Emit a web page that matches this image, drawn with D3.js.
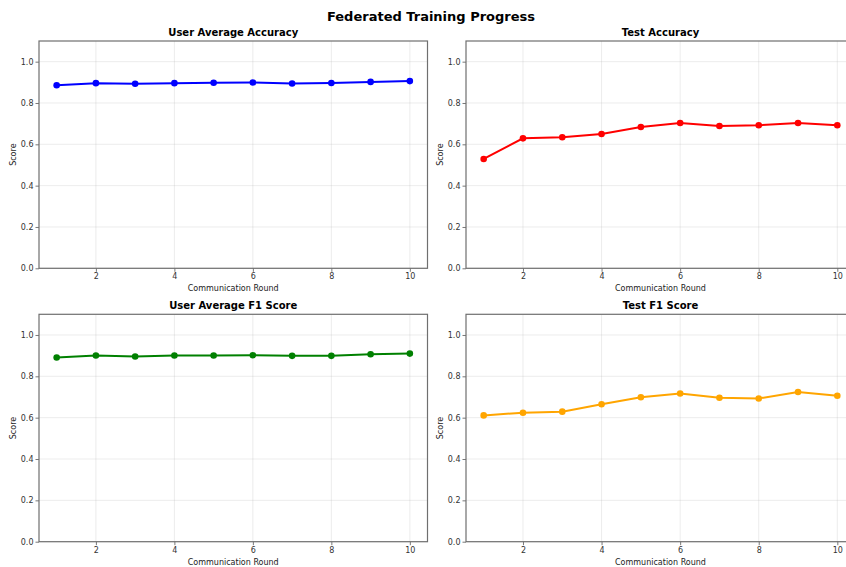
<!DOCTYPE html>
<html>
<head>
<meta charset="utf-8">
<script src="https://cdn.jsdelivr.net/npm/d3@7"></script>
<style>
  body { margin: 0; background: #fff; }
  svg { display: block; font-family: "DejaVu Sans", sans-serif; }
</style>
</head>
<body>
<div id="vis"></div>
<script>
// Frame
const FRAME_WIDTH = 846;
const FRAME_HEIGHT = 567;

// Data
const ROUNDS = [1, 2, 3, 4, 5, 6, 7, 8, 9, 10];
const USER_ACC = [0.886, 0.896, 0.893, 0.896, 0.898, 0.899, 0.894, 0.897, 0.902, 0.906];
const TEST_ACC = [0.529, 0.629, 0.634, 0.650, 0.684, 0.703, 0.689, 0.692, 0.703, 0.692];
const USER_F1 = [0.891, 0.901, 0.896, 0.901, 0.901, 0.902, 0.899, 0.899, 0.907, 0.910];
const TEST_F1 = [0.611, 0.624, 0.629, 0.665, 0.699, 0.717, 0.696, 0.693, 0.724, 0.706];
const TITLES = ["User Average Accuracy", "Test Accuracy", "User Average F1 Score", "Test F1 Score"];
const COLORS = ["#0000ff", "#ff0000", "#008000", "#ffa500"];
const X_TICKS = [2, 4, 6, 8, 10];
const Y_TICKS = [0, 0.2, 0.4, 0.6, 0.8, 1.0];

// Panel boxes (pixels)
const PANELS = [
  {left: 39, right: 427.5, top: 41, bottom: 268.3},
  {left: 466, right: 855, top: 41, bottom: 268.3},
  {left: 39, right: 427.5, top: 314.3, bottom: 541.7},
  {left: 466, right: 855, top: 314.3, bottom: 541.7}
];
const SERIES = [USER_ACC, TEST_ACC, USER_F1, TEST_F1];

const FRAME = d3.select("#vis")
  .append("svg")
    .attr("width", FRAME_WIDTH)
    .attr("height", FRAME_HEIGHT);

// Suptitle
FRAME.append("text")
  .attr("x", 431)
  .attr("y", 21)
  .attr("text-anchor", "middle")
  .attr("font-size", "13px")
  .attr("font-weight", "bold")
  .attr("fill", "#000")
  .text("Federated Training Progress");

PANELS.forEach((p, i) => {
  const W = p.right - p.left;
  const H = p.bottom - p.top;

  const X_SCALE = d3.scaleLinear().domain([0.55, 10.45]).range([0, W]);
  const Y_SCALE = d3.scaleLinear().domain([0, 1.1]).range([H, 0]);

  const g = FRAME.append("g")
    .attr("transform", "translate(" + p.left + "," + p.top + ")");

  // grid
  g.selectAll(".vgrid").data(X_TICKS).enter().append("line")
    .attr("x1", d => X_SCALE(d)).attr("x2", d => X_SCALE(d))
    .attr("y1", 0).attr("y2", H)
    .attr("stroke", "#b0b0b0").attr("stroke-opacity", 0.3).attr("stroke-width", 0.8);
  g.selectAll(".hgrid").data(Y_TICKS).enter().append("line")
    .attr("y1", d => Y_SCALE(d)).attr("y2", d => Y_SCALE(d))
    .attr("x1", 0).attr("x2", W)
    .attr("stroke", "#b0b0b0").attr("stroke-opacity", 0.3).attr("stroke-width", 0.8);

  // axes
  const xAxis = g.append("g")
    .attr("transform", "translate(0," + H + ")")
    .call(d3.axisBottom(X_SCALE).tickValues(X_TICKS).tickSize(3.5).tickPadding(2).tickFormat(d3.format("d")));
  const yAxis = g.append("g")
    .call(d3.axisLeft(Y_SCALE).tickValues(Y_TICKS).tickSize(3.5).tickPadding(2).tickFormat(d3.format(".1f")));
  [xAxis, yAxis].forEach(a => {
    a.select(".domain").remove();
    a.selectAll("line").attr("stroke", "#555").attr("stroke-width", 0.8);
    a.selectAll("text").attr("font-size", "8px").attr("fill", "#333")
      .attr("font-family", "DejaVu Sans, sans-serif");
  });

  // frame box
  g.append("rect")
    .attr("x", 0).attr("y", 0).attr("width", W).attr("height", H)
    .attr("fill", "none").attr("stroke", "#6f6f6f").attr("stroke-width", 1.2);

  // line + markers
  const data = ROUNDS.map((r, k) => ({x: r, y: SERIES[i][k]}));
  g.append("path")
    .datum(data)
    .attr("fill", "none")
    .attr("stroke", COLORS[i])
    .attr("stroke-width", 2)
    .attr("d", d3.line().x(d => X_SCALE(d.x)).y(d => Y_SCALE(d.y)));
  g.selectAll(".pt").data(data).enter().append("circle")
    .attr("cx", d => X_SCALE(d.x))
    .attr("cy", d => Y_SCALE(d.y))
    .attr("r", 3.3)
    .attr("fill", COLORS[i]);

  // titles and labels
  g.append("text")
    .attr("x", X_SCALE(5.5)).attr("y", -5)
    .attr("text-anchor", "middle")
    .attr("font-size", "10px").attr("font-weight", "bold")
    .text(TITLES[i]);
  g.append("text")
    .attr("x", X_SCALE(5.5)).attr("y", H + 23)
    .attr("text-anchor", "middle")
    .attr("font-size", "8px").attr("fill", "#222")
    .text("Communication Round");
  g.append("text")
    .attr("transform", "translate(-23," + (H / 2) + ") rotate(-90)")
    .attr("text-anchor", "middle")
    .attr("font-size", "8px").attr("fill", "#222")
    .text("Score");
});
</script>
</body>
</html>
